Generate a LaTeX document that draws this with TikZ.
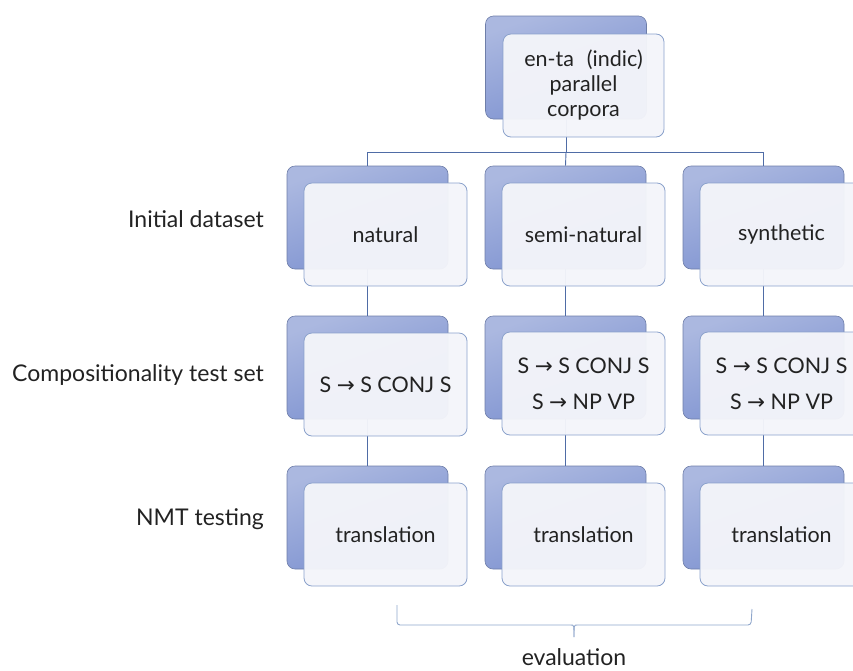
\documentclass[tikz,border=0pt]{standalone}
\usepackage{fontspec}
\setmainfont{Lato}
\newfontfamily\arrfont{DejaVu Sans}
\usetikzlibrary{positioning}
\definecolor{lineblue}{HTML}{4F6CA6}
\definecolor{backtop}{HTML}{ABB8E0}
\definecolor{backbot}{HTML}{7A8FCF}
\definecolor{backedge}{HTML}{6E7EA9}
\definecolor{frontfill}{HTML}{F4F5FA}
\definecolor{frontedge}{HTML}{8AA1CB}
\definecolor{bracecol}{HTML}{8FA6CB}
\definecolor{txt}{HTML}{222222}
\newcommand{\ar}{{\arrfont\char"2192}}
\tikzset{
  backbox/.style={rectangle, rounded corners=8pt, draw=backedge, line width=0.6pt,
    top color=backtop, bottom color=backbot, shading angle=20,
    minimum width=161pt, minimum height=103pt, inner sep=0pt},
  frontbox/.style={rectangle, rounded corners=8pt, draw=frontedge, line width=0.8pt,
    fill=frontfill, fill opacity=0.96, text opacity=1, text=txt,
    minimum width=163pt, minimum height=103pt, inner sep=0pt, align=center,
    font=\fontsize{21.5}{25}\selectfont},
  conn/.style={draw=lineblue, line width=0.9pt},
  rowlabel/.style={anchor=east, inner sep=0pt, text=txt, font=\fontsize{23}{26}\selectfont},
}
\begin{document}
\begin{tikzpicture}[x=1pt,y=-1pt]
\useasboundingbox (0,0) rectangle (853,670);
\clip (0,0) rectangle (853,670);
% back boxes
\node[backbox] (tb) at (566,67.5) {};
\node[backbox] (b11) at (367.5,217.5) {};
\node[backbox] (b12) at (565.5,217.5) {};
\node[backbox] (b13) at (763.5,217.5) {};
\node[backbox] (b21) at (367.5,367.5) {};
\node[backbox] (b22) at (565.5,367.5) {};
\node[backbox] (b23) at (763.5,367.5) {};
\node[backbox] (b31) at (367.5,517.5) {};
\node[backbox] (b32) at (565.5,517.5) {};
\node[backbox] (b33) at (763.5,517.5) {};
% connectors
\coordinate (j) at (566,152);
\draw[conn] (tb.south) -- (j);
\draw[conn] (j) -| (b11.north);
\draw[conn] (j) -| (b13.north);
\draw[conn] (j) -- (b12.north);
\draw[conn] (b11.south) -- (b21.north);
\draw[conn] (b12.south) -- (b22.north);
\draw[conn] (b13.south) -- (b23.north);
\draw[conn] (b21.south) -- (b31.north);
\draw[conn] (b22.south) -- (b32.north);
\draw[conn] (b23.south) -- (b33.north);
% front boxes
\node[frontbox, minimum width=161pt] (tf) at (583.5,85.5) {en-ta\hspace{0.6em}(indic)\\parallel\\corpora};
\node[frontbox] (f11) at (385.5,234.5) {natural};
\node[frontbox] (f12) at (583.5,234.5) {semi-natural};
\node[frontbox] (f13) at (781.5,234.5) {synthetic};
\node[frontbox] (f21) at (385.5,384.5) {S \ar{} S CONJ S};
\node[frontbox, font=\fontsize{21.5}{36}\selectfont] (f22) at (583.5,383.5) {S \ar{} S CONJ S\\S \ar{} NP VP};
\node[frontbox, font=\fontsize{21.5}{36}\selectfont] (f23) at (781.5,383.5) {S \ar{} S CONJ S\\S \ar{} NP VP};
\node[frontbox] (f31) at (385.5,534.5) {translation};
\node[frontbox] (f32) at (583.5,534.5) {translation};
\node[frontbox] (f33) at (781.5,534.5) {translation};
% row labels
\node[rowlabel] (l1) at (264,219) {Initial dataset};
\node[rowlabel] (l2) at (264,375) {Compositionality test set};
\node[rowlabel] (l3) at (264,519) {NMT testing};
% brace
\coordinate (bl) at (397,605);
\coordinate (br) at (752,609);
\coordinate (bm) at (574,637);
\draw[draw=bracecol, line width=0.9pt, rounded corners=3pt] (bl) -- (397,625) -- (571,625);
\draw[draw=bracecol, line width=0.9pt] (571,625) .. controls (574,625) .. (bm);
\draw[draw=bracecol, line width=0.9pt] (bm) .. controls (574,625) .. (577,625);
\draw[draw=bracecol, line width=0.9pt, rounded corners=3pt] (577,625) -- (751,625) -- (br);
\node[inner sep=0pt, text=txt, font=\fontsize{23}{26}\selectfont] (ev) at (574,657) {evaluation};
\end{tikzpicture}
\end{document}
